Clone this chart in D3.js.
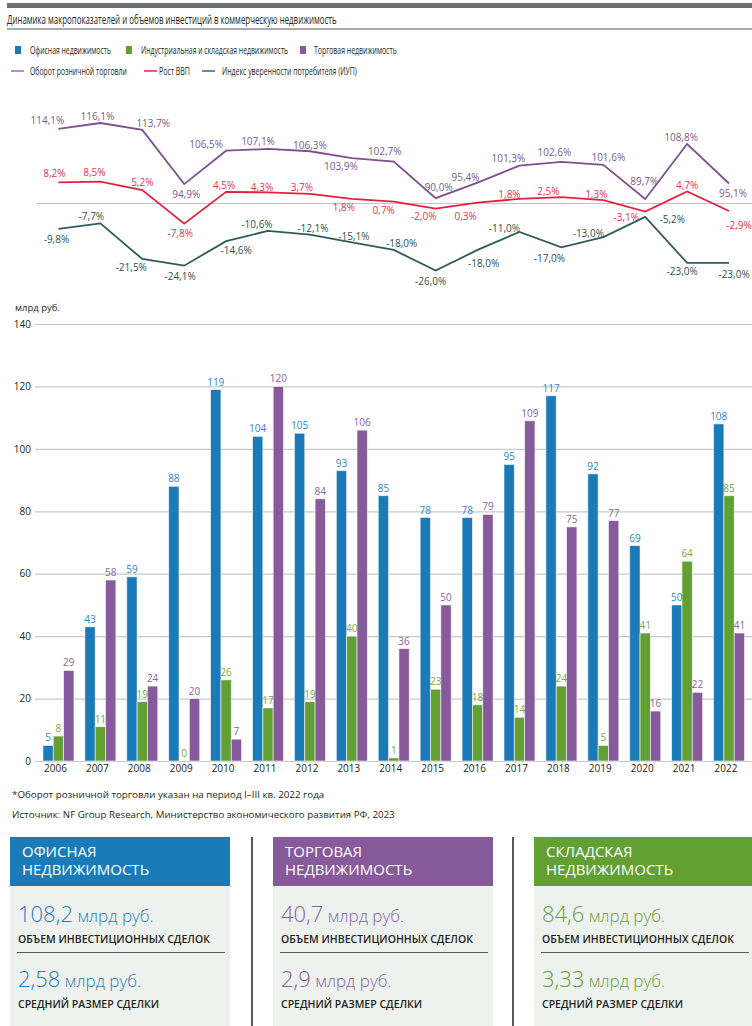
<!DOCTYPE html>
<html>
<head>
<meta charset="utf-8">
<script src="https://cdn.jsdelivr.net/npm/d3@7"></script>
<style>
  body { margin: 0; background: #fff; }
  svg { display: block; font-family: "Open Sans", sans-serif; }
</style>
</head>
<body>
<div id="chart"></div>
<script>
// Data
const years = [2006, 2007, 2008, 2009, 2010, 2011, 2012, 2013, 2014, 2015, 2016, 2017, 2018, 2019, 2020, 2021, 2022];
const office = [5, 43, 59, 88, 119, 104, 105, 93, 85, 78, 78, 95, 117, 92, 69, 50, 108];
const industrial = [8, 11, 19, 0, 26, 17, 19, 40, 1, 23, 18, 14, 24, 5, 41, 64, 85];
const retail = [29, 58, 24, 20, 7, 120, 84, 106, 36, 50, 79, 109, 75, 77, 16, 22, 41];

const retailTurnover = [114.1, 116.1, 113.7, 94.9, 106.5, 107.1, 106.3, 103.9, 102.7, 90.0, 95.4, 101.3, 102.6, 101.6, 89.7, 108.8, 95.1];
const gdpGrowth = [8.2, 8.5, 5.2, -7.8, 4.5, 4.3, 3.7, 1.8, 0.7, -2.0, 0.3, 1.8, 2.5, 1.3, -3.1, 4.7, -2.9];
const consumerConfidence = [-9.8, -7.7, -21.5, -24.1, -14.6, -10.6, -12.1, -15.1, -18.0, -26.0, -18.0, -11.0, -17.0, -13.0, -5.2, -23.0, -23.0];

const barSeries = ['Офисная недвижимость', 'Индустриальная и складская недвижимость', 'Торговая недвижимость'];
const lineSeries = ['Оборот розничной торговли', 'Рост ВВП', 'Индекс уверенности потребителя (ИУП)'];
const yTicks = [0, 20, 40, 60, 80, 100, 120, 140];

const cardTitles = [['ОФИСНАЯ', 'НЕДВИЖИМОСТЬ'], ['ТОРГОВАЯ', 'НЕДВИЖИМОСТЬ'], ['СКЛАДСКАЯ', 'НЕДВИЖИМОСТЬ']];
const dealVolume = [108.2, 40.7, 84.6];
const avgDeal = [2.58, 2.9, 3.33];

const title = 'Динамика макропоказателей и объемов инвестиций в коммерческую недвижимость';
const footnote = '*Оборот розничной торговли указан на период I–III кв. 2022 года';
const source = 'Источник: NF Group Research, Министерство экономического развития РФ, 2023';

// Colours
const barColors = ['#1b7bb8', '#62a033', '#875a9b'];
const barLabelColors = ['#2d86c5', '#77a93a', '#8c619f'];
const lineColors = ['#7f4f8f', '#e5203e', '#2d5d56'];
const legendLineColors = ['#b48fbf', '#ec5b73', '#6e8e8a'];
const lineLabelColors = ['#7a5b8b', '#e8324c', '#33504c'];
const cardColors = ['#1b7bb8', '#875a9b', '#62a033'];
const cardNumColors = ['#2b7bb8', '#8a62a0', '#64a035'];

// label nudges for the line chart (px from the point)
const retailNudge = [[-11,-8],[-3,-7],[11,-6],[2,10],[-20,-6],[-10,-7],[0,-6],[-11,8],[-9,-10],[3,-11],[-12,-5],[-11,-7],[-7,-9],[5,-7],[-1,-18],[-6,-7],[4,10]];
const gdpNudge = [[-4,-9],[-6,-9],[0,-8],[-4,10],[-2,-6],[-6,-5],[-8,-6],[-8,9],[-10,9],[-12,8],[-12,14],[-10,-4],[-13,-6],[-7,-6],[-19,6],[0,-6],[10,15]];
const cciNudge = [[-2,11],[-9,-7],[-11,9],[-4,11],[10,9],[-11,-6],[3,-6],[2,-6],[8,-6],[-5,11],[6,14],[-15,-3],[-12,11],[-15,-4],[27,3],[-5,9],[5,12]];

const width = 752, height = 1026;

const svg = d3.select('#chart')
  .append('svg')
  .attr('width', width)
  .attr('height', height);

// text squeezed horizontally to the width it has in the original (source font is narrower)
function narrowText(parent, x, yy, str, size, w) {
  const g = parent.append('g');
  const t = g.append('text').attr('x', 0).attr('y', 0)
    .attr('font-size', size).attr('fill', '#231f20').text(str);
  const len = t.node().getComputedTextLength();
  g.attr('transform', `translate(${x},${yy}) scale(${w / len},1)`);
  return t;
}

// Header
svg.append('rect').attr('x', 7).attr('y', 3).attr('width', width - 7).attr('height', 5).attr('fill', '#6d6e70');
narrowText(svg, 7, 23.5, title, 12, 330);
svg.append('rect').attr('x', 7).attr('y', 28).attr('width', width - 7).attr('height', 2).attr('fill', '#a7a9ac');

// Legend
const legendBars = [{x: 15, tx: 30, w: 81}, {x: 126, tx: 141, w: 147}, {x: 300, tx: 314, w: 83}];
const legendLines = [{x: 11, tx: 30, w: 97}, {x: 144, tx: 159, w: 31}, {x: 202, tx: 222, w: 135}];

barSeries.forEach((name, i) => {
  const l = legendBars[i];
  svg.append('rect').attr('x', l.x).attr('y', 46).attr('width', 6).attr('height', 8).attr('fill', barColors[i]);
  narrowText(svg, l.tx, 53.5, name, 10.5, l.w);
});
lineSeries.forEach((name, i) => {
  const l = legendLines[i];
  svg.append('line').attr('x1', l.x).attr('x2', l.x + 13).attr('y1', 71).attr('y2', 71)
    .attr('stroke', legendLineColors[i]).attr('stroke-width', 2);
  narrowText(svg, l.tx, 74.5, name, 10.5, l.w);
});

// Shared x scale
const x0 = d3.scaleBand()
  .domain(years)
  .range([37.5, 750])
  .paddingInner(0.26)
  .paddingOuter(0.13);
const xc = d => x0(d) + x0.bandwidth() / 2;

// Line chart
const yPct = d3.scaleLinear().domain([0, -10]).range([203.5, 229.3]);
const yRetail = d3.scaleLinear().domain([100, 110]).range([169.4, 140.6]);

svg.append('line').attr('x1', 36).attr('x2', width).attr('y1', yPct(0)).attr('y2', yPct(0))
  .attr('stroke', '#c4c4c4').attr('stroke-width', 1);

const fmtPct = v => v.toFixed(1).replace('.', ',') + '%';

const lineDefs = [
  {values: retailTurnover, scale: yRetail, nudge: retailNudge},
  {values: gdpGrowth, scale: yPct, nudge: gdpNudge},
  {values: consumerConfidence, scale: yPct, nudge: cciNudge}
];

lineDefs.forEach((def, i) => {
  const pts = years.map((yr, j) => ({yr, v: def.values[j], n: def.nudge[j]}));
  const line = d3.line().x(d => xc(d.yr)).y(d => def.scale(d.v));
  svg.append('path')
    .datum(pts)
    .attr('d', line)
    .attr('fill', 'none')
    .attr('stroke', lineColors[i])
    .attr('stroke-width', 1.8)
    .attr('stroke-linejoin', 'miter');

  svg.append('g').selectAll('text')
    .data(pts)
    .enter()
    .append('text')
    .attr('x', d => xc(d.yr) + d.n[0])
    .attr('y', d => def.scale(d.v) + d.n[1])
    .attr('dy', '0.35em')
    .attr('text-anchor', 'middle')
    .attr('font-size', 10)
    .attr('fill', lineLabelColors[i])
    .text(d => fmtPct(d.v));
});

// Bar chart
const y = d3.scaleLinear().domain([0, 140]).range([761, 324]);

svg.append('text').attr('x', 15).attr('y', 311).attr('font-size', 9.5).attr('fill', '#231f20').text('млрд руб.');

const yAxis = svg.append('g')
  .attr('transform', 'translate(35,0)')
  .call(d3.axisLeft(y).tickValues(yTicks).tickSize(-(width - 35)).tickPadding(4));
yAxis.select('.domain').remove();
yAxis.selectAll('line').attr('stroke', '#c8c8c8').attr('stroke-width', 1.2);
yAxis.selectAll('text').attr('font-size', 10).attr('fill', '#231f20').attr('font-family', '"Open Sans", sans-serif');

const x1 = d3.scaleBand().domain([0, 1, 2]).range([0, x0.bandwidth()]);

const barData = years.map((yr, j) => ({yr, vals: [office[j], industrial[j], retail[j]]}));

const groups = svg.append('g').selectAll('g')
  .data(barData)
  .enter()
  .append('g')
  .attr('transform', d => `translate(${x0(d.yr)},0)`);

groups.selectAll('rect')
  .data(d => d.vals.map((v, k) => ({v, k})))
  .enter()
  .append('rect')
  .attr('x', d => x1(d.k))
  .attr('y', d => y(d.v))
  .attr('width', x1.bandwidth())
  .attr('height', d => y(0) - y(d.v))
  .attr('fill', d => barColors[d.k])
  .attr('stroke', 'rgba(255,255,255,0.7)')
  .attr('stroke-width', 0.8);

groups.selectAll('text.val')
  .data(d => d.vals.map((v, k) => ({v, k})))
  .enter()
  .append('text')
  .attr('class', 'val')
  .attr('x', d => x1(d.k) + x1.bandwidth() / 2)
  .attr('y', d => y(d.v) - 4)
  .attr('text-anchor', 'middle')
  .attr('font-size', 10)
  .attr('fill', d => barLabelColors[d.k])
  .text(d => d.v);

svg.append('g').selectAll('text')
  .data(years)
  .enter()
  .append('text')
  .attr('x', d => xc(d) - 3)
  .attr('y', 772)
  .attr('text-anchor', 'middle')
  .attr('font-size', 10)
  .attr('fill', '#231f20')
  .text(d => d);

// Footnotes
narrowText(svg, 12, 798, footnote, 9.5, 313);
narrowText(svg, 12, 818, source, 9.5, 383);

// Cards
const cardX = [10, 273, 534];
const cardW = 220;
const fmtNum = v => String(v).replace('.', ',');

[252, 513].forEach(sx => {
  svg.append('line').attr('x1', sx).attr('x2', sx).attr('y1', 837).attr('y2', height)
    .attr('stroke', '#58595b').attr('stroke-width', 2);
});

cardTitles.forEach((t, i) => {
  const cx = cardX[i];
  const w = Math.min(cardW, width - cx);
  const g = svg.append('g').attr('transform', `translate(${cx},0)`);
  g.append('rect').attr('x', 0).attr('y', 886).attr('width', w).attr('height', height - 886).attr('fill', '#eef2ef');
  g.append('rect').attr('x', 0).attr('y', 837).attr('width', w).attr('height', 49).attr('fill', cardColors[i]);
  t.forEach((line, k) => {
    g.append('text').attr('x', 12).attr('y', 857 + k * 18).attr('font-size', 15).attr('fill', '#fff').text(line);
  });

  const big = (yy, v) => {
    const tx = g.append('text').attr('x', 8).attr('y', yy).attr('fill', cardNumColors[i]).attr('font-weight', 300);
    tx.append('tspan').attr('font-size', 22).text(fmtNum(v));
    tx.append('tspan').attr('font-size', 17).text(' млрд руб.');
  };
  big(922, dealVolume[i]);
  g.append('text').attr('x', 8).attr('y', 943).attr('font-size', 10.5).attr('font-weight', 600)
    .attr('fill', '#231f20').text('ОБЪЕМ ИНВЕСТИЦИОННЫХ СДЕЛОК');
  g.append('line').attr('x1', 7).attr('x2', 215).attr('y1', 952.5).attr('y2', 952.5)
    .attr('stroke', '#58595b').attr('stroke-width', 1);
  big(987, avgDeal[i]);
  g.append('text').attr('x', 8).attr('y', 1008).attr('font-size', 10.5).attr('font-weight', 600)
    .attr('fill', '#231f20').text('СРЕДНИЙ РАЗМЕР СДЕЛКИ');
});
</script>
</body>
</html>
